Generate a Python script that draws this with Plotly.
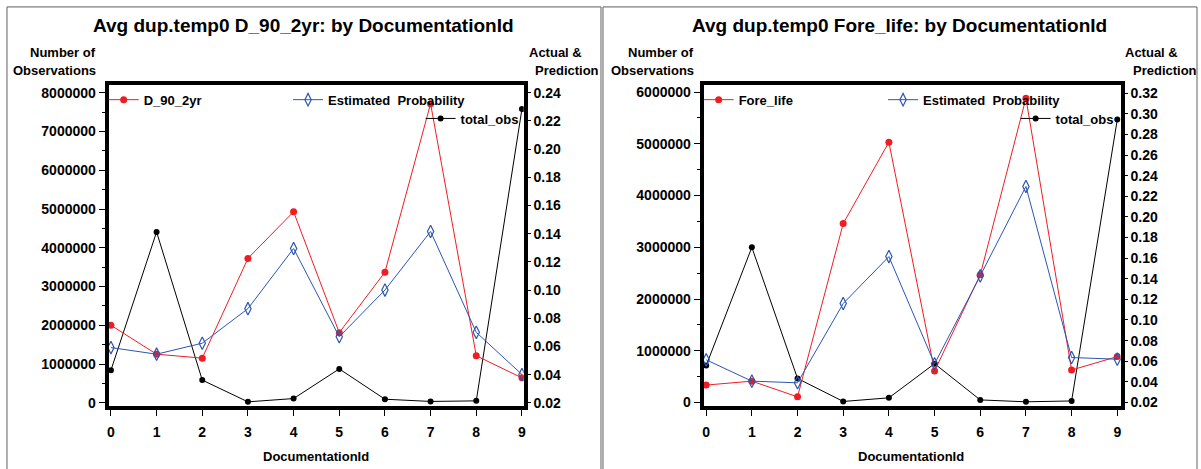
import plotly.graph_objects as go

W, H = 1201, 469


def px(x):
    return x / W


def py(y):
    return 1 - y / H


# ---------------- data ----------------
doc_ids = [0, 1, 2, 3, 4, 5, 6, 7, 8, 9]
x_tick_text = ["0", "1", "2", "3", "4", "5", "6", "7", "8", "9"]

# Panel 1 : D_90_2yr
d90_actual = [0.0750, 0.0545, 0.0517, 0.1225, 0.1556, 0.0698, 0.1127, 0.2323, 0.0534, 0.0377]
d90_est = [0.0592, 0.0545, 0.0623, 0.0868, 0.1295, 0.0669, 0.1000, 0.1416, 0.0700, 0.0401]
d90_obs = [840000, 4410000, 586000, 25000, 110000, 875000, 93000, 35000, 50000, 7580000]

# Panel 2 : Fore_life
fore_actual = [0.0369, 0.0407, 0.0255, 0.1935, 0.2725, 0.0506, 0.1438, 0.3150, 0.0515, 0.0645]
fore_est = [0.0614, 0.0407, 0.0391, 0.1160, 0.1615, 0.0575, 0.1428, 0.2295, 0.0636, 0.0620]
fore_obs = [713000, 3000000, 465000, 20000, 90000, 750000, 50000, 13000, 30000, 5470000]

titles = ["Avg dup.temp0 D_90_2yr: by DocumentationId",
          "Avg dup.temp0 Fore_life: by DocumentationId"]
actual_names = ["D_90_2yr", "Fore_life"]
est_name = "Estimated  Probability"
obs_name = "total_obs"
x_title = "DocumentationId"

# ---------------- style ----------------
FONT = "Liberation Sans, Arial, sans-serif"
RED = "#f01c24"
BLUE = "#2b55b5"
BLACK = "#000000"

fig = go.Figure()

panels = [
    dict(obs=d90_obs, act=d90_actual, est=d90_est, name=actual_names[0],
         xa="x", ya="y", ya2="y2", legs=("legend", "legend2", "legend3")),
    dict(obs=fore_obs, act=fore_actual, est=fore_est, name=actual_names[1],
         xa="x2", ya="y3", ya2="y4", legs=("legend4", "legend5", "legend6")),
]

for p in panels:
    fig.add_trace(go.Scatter(
        x=doc_ids, y=p["obs"], xaxis=p["xa"], yaxis=p["ya"], mode="lines+markers",
        line=dict(color=BLACK, width=1), marker=dict(symbol="circle", size=6, color=BLACK),
        name=obs_name, legend=p["legs"][2], showlegend=True, hoverinfo="skip"))
    fig.add_trace(go.Scatter(
        x=doc_ids, y=p["act"], xaxis=p["xa"], yaxis=p["ya2"], mode="lines+markers",
        line=dict(color=RED, width=1), marker=dict(symbol="circle", size=7, color=RED),
        name=p["name"], legend=p["legs"][0], showlegend=True, hoverinfo="skip"))
    fig.add_trace(go.Scatter(
        x=doc_ids, y=p["est"], xaxis=p["xa"], yaxis=p["ya2"], mode="lines+markers",
        line=dict(color=BLUE, width=1),
        marker=dict(symbol="diamond-tall-open", size=9, color=BLUE, line=dict(width=1.2, color=BLUE)),
        name=est_name, legend=p["legs"][1], showlegend=True, hoverinfo="skip"))

tickfont = dict(family=FONT, size=14, color="black", weight="bold")

common_x = dict(tickmode="array", tickvals=doc_ids, ticktext=x_tick_text, ticks="outside",
                ticklen=6, tickwidth=1, tickcolor="black", showline=True, linewidth=4,
                linecolor="black", mirror=True, showgrid=False, zeroline=False,
                tickfont=tickfont, ticklabelstandoff=4, fixedrange=True)
common_yl = dict(ticks="outside", ticklen=6, tickwidth=1, tickcolor="black", showline=True,
                 linewidth=4, linecolor="black", mirror=True, showgrid=False, zeroline=False,
                 tickfont=tickfont, tickformat="d", fixedrange=True)
common_yr = dict(ticks="outside", ticklen=6, tickwidth=1, tickcolor="black", showline=False,
                 showgrid=False, zeroline=False, tickfont=tickfont, tickformat=".2f",
                 side="right", fixedrange=True)

ydom = [py(410), py(85.3)]

fig.update_layout(
    width=W, height=H, margin=dict(l=0, r=0, t=0, b=0),
    paper_bgcolor="white", plot_bgcolor="white", showlegend=True,
    font=dict(family=FONT, color="black"),
    xaxis=dict(domain=[px(107), px(523.5)], range=[-0.05, 9.04], anchor="y", **common_x),
    yaxis=dict(domain=ydom, range=[-76000, 8196000], anchor="x", tick0=0, dtick=1000000,
               minor=dict(tick0=0, dtick=500000, ticks="outside", ticklen=3, tickcolor="black"),
               **common_yl),
    yaxis2=dict(overlaying="y", anchor="x", range=[0.0179, 0.2454], tick0=0.02, dtick=0.02,
                minor=dict(tick0=0.02, dtick=0.01, ticks="outside", ticklen=3, tickcolor="black"),
                **common_yr),
    xaxis2=dict(domain=[px(704), px(1122.5)], range=[-0.055, 9.076], anchor="y3", **common_x),
    yaxis3=dict(domain=ydom, range=[-63000, 6134000], anchor="x2", tick0=0, dtick=1000000,
                minor=dict(tick0=0, dtick=500000, ticks="outside", ticklen=3, tickcolor="black"),
                **common_yl),
    yaxis4=dict(overlaying="y3", anchor="x2", range=[0.01684, 0.3277], tick0=0.02, dtick=0.02,
                minor=dict(tick0=0.02, dtick=0.01, ticks="outside", ticklen=3, tickcolor="black"),
                **common_yr),
)

leg_font = dict(family=FONT, size=13, color="black", weight="bold")


def leg(xpix, ypix):
    return dict(x=px(xpix), y=py(ypix), xanchor="left", yanchor="middle",
                bgcolor="rgba(0,0,0,0)", borderwidth=0, font=leg_font, itemwidth=30)


fig.update_layout(
    legend=leg(102, 100), legend2=leg(287, 100), legend3=leg(420, 119),
    legend4=leg(699, 100), legend5=leg(884, 100), legend6=leg(1017, 119),
)

ann = []
lab_font = dict(family=FONT, size=13, color="black", weight="bold")
for i, (cx, left_r, act_c, pred_c) in enumerate([(303, 96, 555, 567), (901, 696, 1153, 1167)]):
    ann.append(dict(text=titles[i], x=px(cx), y=py(25), xref="paper", yref="paper",
                    showarrow=False, xanchor="center", yanchor="middle",
                    font=dict(family=FONT, size=19, color="black", weight="bold")))
    ann.append(dict(text="Number of", x=px(left_r), y=py(52), xref="paper", yref="paper",
                    showarrow=False, xanchor="right", yanchor="middle", font=lab_font))
    ann.append(dict(text="Observations", x=px(left_r), y=py(70), xref="paper", yref="paper",
                    showarrow=False, xanchor="right", yanchor="middle", font=lab_font))
    ann.append(dict(text="Actual &", x=px(act_c), y=py(52), xref="paper", yref="paper",
                    showarrow=False, xanchor="center", yanchor="middle", font=lab_font))
    ann.append(dict(text="Prediction", x=px(pred_c), y=py(70), xref="paper", yref="paper",
                    showarrow=False, xanchor="center", yanchor="middle", font=lab_font))
for cx in (315.5, 912):
    ann.append(dict(text=x_title, x=px(cx), y=py(461), xref="paper", yref="paper",
                    showarrow=False, xanchor="center", yanchor="middle", font=lab_font))
fig.update_layout(annotations=ann)

shapes = []
for x0, x1 in [(5, 601), (603, 1199)]:
    shapes.append(dict(type="rect", xref="paper", yref="paper", x0=px(x0), x1=px(x1),
                       y0=-0.05, y1=py(6), line=dict(color="#606060", width=1),
                       fillcolor="rgba(0,0,0,0)", layer="below"))
fig.update_layout(shapes=shapes)

fig.write_html("out.html")
